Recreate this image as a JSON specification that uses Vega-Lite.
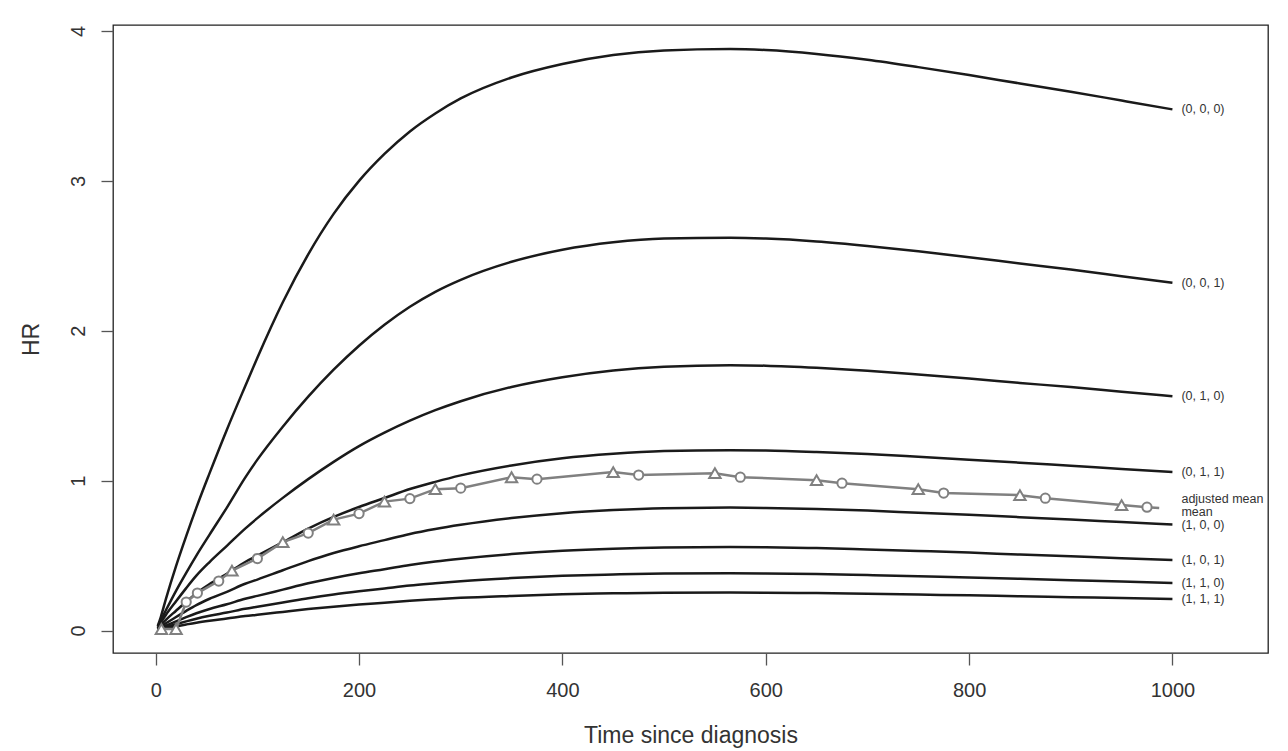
{
  "$schema": "https://vega.github.io/schema/vega-lite/v6.json",
  "width": 1155,
  "height": 628,
  "autosize": {"type": "none"},
  "padding": {"left": 113, "top": 25, "right": 20, "bottom": 98},
  "background": "white",
  "config": {
    "view": {"stroke": "#222222", "strokeWidth": 1.3},
    "font": "Liberation Sans",
    "axis": {"grid": false, "domain": false, "tickColor": "#555555", "tickWidth": 1.3, "tickSize": 12, "labelColor": "#333333", "labelFont": "Liberation Sans", "labelFontSize": 20, "titleFont": "Liberation Sans", "titleFontSize": 23, "titleFontWeight": "normal", "titleColor": "#333333"}
  },
  "datasets": {
    "curves": [
      {"combo": "(0, 0, 0)", "t": 2, "hr": 0.03}, {"combo": "(0, 0, 0)", "t": 5, "hr": 0.09}, {"combo": "(0, 0, 0)", "t": 10, "hr": 0.21}, {"combo": "(0, 0, 0)", "t": 20, "hr": 0.43}, {"combo": "(0, 0, 0)", "t": 30, "hr": 0.63}, {"combo": "(0, 0, 0)", "t": 40, "hr": 0.82}, {"combo": "(0, 0, 0)", "t": 53, "hr": 1.05}, {"combo": "(0, 0, 0)", "t": 70, "hr": 1.34}, {"combo": "(0, 0, 0)", "t": 88, "hr": 1.63}, {"combo": "(0, 0, 0)", "t": 100, "hr": 1.82}, {"combo": "(0, 0, 0)", "t": 125, "hr": 2.19}, {"combo": "(0, 0, 0)", "t": 150, "hr": 2.51}, {"combo": "(0, 0, 0)", "t": 175, "hr": 2.78}, {"combo": "(0, 0, 0)", "t": 200, "hr": 3.0}, {"combo": "(0, 0, 0)", "t": 225, "hr": 3.18}, {"combo": "(0, 0, 0)", "t": 250, "hr": 3.33}, {"combo": "(0, 0, 0)", "t": 275, "hr": 3.45}, {"combo": "(0, 0, 0)", "t": 300, "hr": 3.55}, {"combo": "(0, 0, 0)", "t": 350, "hr": 3.69}, {"combo": "(0, 0, 0)", "t": 400, "hr": 3.78}, {"combo": "(0, 0, 0)", "t": 450, "hr": 3.84}, {"combo": "(0, 0, 0)", "t": 500, "hr": 3.87}, {"combo": "(0, 0, 0)", "t": 565, "hr": 3.88}, {"combo": "(0, 0, 0)", "t": 600, "hr": 3.873}, {"combo": "(0, 0, 0)", "t": 650, "hr": 3.847}, {"combo": "(0, 0, 0)", "t": 700, "hr": 3.808}, {"combo": "(0, 0, 0)", "t": 750, "hr": 3.759}, {"combo": "(0, 0, 0)", "t": 800, "hr": 3.706}, {"combo": "(0, 0, 0)", "t": 850, "hr": 3.65}, {"combo": "(0, 0, 0)", "t": 900, "hr": 3.595}, {"combo": "(0, 0, 0)", "t": 950, "hr": 3.536}, {"combo": "(0, 0, 0)", "t": 1000, "hr": 3.477},
      {"combo": "(0, 0, 1)", "t": 2, "hr": 0.025}, {"combo": "(0, 0, 1)", "t": 5, "hr": 0.068}, {"combo": "(0, 0, 1)", "t": 10, "hr": 0.135}, {"combo": "(0, 0, 1)", "t": 20, "hr": 0.265}, {"combo": "(0, 0, 1)", "t": 30, "hr": 0.385}, {"combo": "(0, 0, 1)", "t": 40, "hr": 0.5}, {"combo": "(0, 0, 1)", "t": 53, "hr": 0.64}, {"combo": "(0, 0, 1)", "t": 70, "hr": 0.82}, {"combo": "(0, 0, 1)", "t": 88, "hr": 1.02}, {"combo": "(0, 0, 1)", "t": 100, "hr": 1.14}, {"combo": "(0, 0, 1)", "t": 125, "hr": 1.36}, {"combo": "(0, 0, 1)", "t": 150, "hr": 1.56}, {"combo": "(0, 0, 1)", "t": 175, "hr": 1.74}, {"combo": "(0, 0, 1)", "t": 200, "hr": 1.9}, {"combo": "(0, 0, 1)", "t": 225, "hr": 2.04}, {"combo": "(0, 0, 1)", "t": 250, "hr": 2.16}, {"combo": "(0, 0, 1)", "t": 275, "hr": 2.26}, {"combo": "(0, 0, 1)", "t": 300, "hr": 2.34}, {"combo": "(0, 0, 1)", "t": 350, "hr": 2.46}, {"combo": "(0, 0, 1)", "t": 400, "hr": 2.54}, {"combo": "(0, 0, 1)", "t": 450, "hr": 2.59}, {"combo": "(0, 0, 1)", "t": 500, "hr": 2.615}, {"combo": "(0, 0, 1)", "t": 565, "hr": 2.62}, {"combo": "(0, 0, 1)", "t": 600, "hr": 2.615}, {"combo": "(0, 0, 1)", "t": 650, "hr": 2.596}, {"combo": "(0, 0, 1)", "t": 700, "hr": 2.566}, {"combo": "(0, 0, 1)", "t": 750, "hr": 2.53}, {"combo": "(0, 0, 1)", "t": 800, "hr": 2.491}, {"combo": "(0, 0, 1)", "t": 850, "hr": 2.449}, {"combo": "(0, 0, 1)", "t": 900, "hr": 2.408}, {"combo": "(0, 0, 1)", "t": 950, "hr": 2.364}, {"combo": "(0, 0, 1)", "t": 1000, "hr": 2.32},
      {"combo": "(0, 1, 0)", "t": 2, "hr": 0.014}, {"combo": "(0, 1, 0)", "t": 5, "hr": 0.053}, {"combo": "(0, 1, 0)", "t": 10, "hr": 0.104}, {"combo": "(0, 1, 0)", "t": 20, "hr": 0.195}, {"combo": "(0, 1, 0)", "t": 30, "hr": 0.283}, {"combo": "(0, 1, 0)", "t": 40, "hr": 0.366}, {"combo": "(0, 1, 0)", "t": 53, "hr": 0.457}, {"combo": "(0, 1, 0)", "t": 70, "hr": 0.565}, {"combo": "(0, 1, 0)", "t": 88, "hr": 0.68}, {"combo": "(0, 1, 0)", "t": 100, "hr": 0.75}, {"combo": "(0, 1, 0)", "t": 125, "hr": 0.885}, {"combo": "(0, 1, 0)", "t": 150, "hr": 1.01}, {"combo": "(0, 1, 0)", "t": 175, "hr": 1.125}, {"combo": "(0, 1, 0)", "t": 200, "hr": 1.23}, {"combo": "(0, 1, 0)", "t": 225, "hr": 1.32}, {"combo": "(0, 1, 0)", "t": 250, "hr": 1.4}, {"combo": "(0, 1, 0)", "t": 275, "hr": 1.47}, {"combo": "(0, 1, 0)", "t": 300, "hr": 1.53}, {"combo": "(0, 1, 0)", "t": 350, "hr": 1.625}, {"combo": "(0, 1, 0)", "t": 400, "hr": 1.69}, {"combo": "(0, 1, 0)", "t": 450, "hr": 1.735}, {"combo": "(0, 1, 0)", "t": 500, "hr": 1.76}, {"combo": "(0, 1, 0)", "t": 565, "hr": 1.77}, {"combo": "(0, 1, 0)", "t": 600, "hr": 1.767}, {"combo": "(0, 1, 0)", "t": 650, "hr": 1.753}, {"combo": "(0, 1, 0)", "t": 700, "hr": 1.733}, {"combo": "(0, 1, 0)", "t": 750, "hr": 1.708}, {"combo": "(0, 1, 0)", "t": 800, "hr": 1.681}, {"combo": "(0, 1, 0)", "t": 850, "hr": 1.652}, {"combo": "(0, 1, 0)", "t": 900, "hr": 1.624}, {"combo": "(0, 1, 0)", "t": 950, "hr": 1.593}, {"combo": "(0, 1, 0)", "t": 1000, "hr": 1.563},
      {"combo": "(0, 1, 1)", "t": 2, "hr": 0.0096}, {"combo": "(0, 1, 1)", "t": 5, "hr": 0.036}, {"combo": "(0, 1, 1)", "t": 10, "hr": 0.071}, {"combo": "(0, 1, 1)", "t": 20, "hr": 0.132}, {"combo": "(0, 1, 1)", "t": 30, "hr": 0.192}, {"combo": "(0, 1, 1)", "t": 40, "hr": 0.249}, {"combo": "(0, 1, 1)", "t": 53, "hr": 0.31}, {"combo": "(0, 1, 1)", "t": 70, "hr": 0.379}, {"combo": "(0, 1, 1)", "t": 88, "hr": 0.457}, {"combo": "(0, 1, 1)", "t": 100, "hr": 0.499}, {"combo": "(0, 1, 1)", "t": 125, "hr": 0.589}, {"combo": "(0, 1, 1)", "t": 150, "hr": 0.68}, {"combo": "(0, 1, 1)", "t": 175, "hr": 0.758}, {"combo": "(0, 1, 1)", "t": 200, "hr": 0.824}, {"combo": "(0, 1, 1)", "t": 225, "hr": 0.884}, {"combo": "(0, 1, 1)", "t": 250, "hr": 0.944}, {"combo": "(0, 1, 1)", "t": 275, "hr": 0.992}, {"combo": "(0, 1, 1)", "t": 300, "hr": 1.035}, {"combo": "(0, 1, 1)", "t": 350, "hr": 1.101}, {"combo": "(0, 1, 1)", "t": 400, "hr": 1.149}, {"combo": "(0, 1, 1)", "t": 450, "hr": 1.179}, {"combo": "(0, 1, 1)", "t": 500, "hr": 1.197}, {"combo": "(0, 1, 1)", "t": 565, "hr": 1.203}, {"combo": "(0, 1, 1)", "t": 600, "hr": 1.201}, {"combo": "(0, 1, 1)", "t": 650, "hr": 1.191}, {"combo": "(0, 1, 1)", "t": 700, "hr": 1.177}, {"combo": "(0, 1, 1)", "t": 750, "hr": 1.159}, {"combo": "(0, 1, 1)", "t": 800, "hr": 1.14}, {"combo": "(0, 1, 1)", "t": 850, "hr": 1.12}, {"combo": "(0, 1, 1)", "t": 900, "hr": 1.099}, {"combo": "(0, 1, 1)", "t": 950, "hr": 1.078}, {"combo": "(0, 1, 1)", "t": 1000, "hr": 1.057},
      {"combo": "(1, 0, 0)", "t": 2, "hr": 0.0066}, {"combo": "(1, 0, 0)", "t": 5, "hr": 0.0246}, {"combo": "(1, 0, 0)", "t": 10, "hr": 0.048}, {"combo": "(1, 0, 0)", "t": 20, "hr": 0.09}, {"combo": "(1, 0, 0)", "t": 30, "hr": 0.131}, {"combo": "(1, 0, 0)", "t": 40, "hr": 0.17}, {"combo": "(1, 0, 0)", "t": 53, "hr": 0.212}, {"combo": "(1, 0, 0)", "t": 70, "hr": 0.258}, {"combo": "(1, 0, 0)", "t": 88, "hr": 0.312}, {"combo": "(1, 0, 0)", "t": 100, "hr": 0.34}, {"combo": "(1, 0, 0)", "t": 125, "hr": 0.402}, {"combo": "(1, 0, 0)", "t": 150, "hr": 0.463}, {"combo": "(1, 0, 0)", "t": 175, "hr": 0.517}, {"combo": "(1, 0, 0)", "t": 200, "hr": 0.562}, {"combo": "(1, 0, 0)", "t": 225, "hr": 0.603}, {"combo": "(1, 0, 0)", "t": 250, "hr": 0.644}, {"combo": "(1, 0, 0)", "t": 275, "hr": 0.677}, {"combo": "(1, 0, 0)", "t": 300, "hr": 0.705}, {"combo": "(1, 0, 0)", "t": 350, "hr": 0.75}, {"combo": "(1, 0, 0)", "t": 400, "hr": 0.783}, {"combo": "(1, 0, 0)", "t": 450, "hr": 0.804}, {"combo": "(1, 0, 0)", "t": 500, "hr": 0.816}, {"combo": "(1, 0, 0)", "t": 565, "hr": 0.82}, {"combo": "(1, 0, 0)", "t": 600, "hr": 0.818}, {"combo": "(1, 0, 0)", "t": 650, "hr": 0.811}, {"combo": "(1, 0, 0)", "t": 700, "hr": 0.8}, {"combo": "(1, 0, 0)", "t": 750, "hr": 0.786}, {"combo": "(1, 0, 0)", "t": 800, "hr": 0.772}, {"combo": "(1, 0, 0)", "t": 850, "hr": 0.756}, {"combo": "(1, 0, 0)", "t": 900, "hr": 0.741}, {"combo": "(1, 0, 0)", "t": 950, "hr": 0.724}, {"combo": "(1, 0, 0)", "t": 1000, "hr": 0.708},
      {"combo": "(1, 0, 1)", "t": 2, "hr": 0.0045}, {"combo": "(1, 0, 1)", "t": 5, "hr": 0.0167}, {"combo": "(1, 0, 1)", "t": 10, "hr": 0.0329}, {"combo": "(1, 0, 1)", "t": 20, "hr": 0.0613}, {"combo": "(1, 0, 1)", "t": 30, "hr": 0.0891}, {"combo": "(1, 0, 1)", "t": 40, "hr": 0.115}, {"combo": "(1, 0, 1)", "t": 53, "hr": 0.144}, {"combo": "(1, 0, 1)", "t": 70, "hr": 0.175}, {"combo": "(1, 0, 1)", "t": 88, "hr": 0.212}, {"combo": "(1, 0, 1)", "t": 100, "hr": 0.231}, {"combo": "(1, 0, 1)", "t": 125, "hr": 0.273}, {"combo": "(1, 0, 1)", "t": 150, "hr": 0.315}, {"combo": "(1, 0, 1)", "t": 175, "hr": 0.351}, {"combo": "(1, 0, 1)", "t": 200, "hr": 0.382}, {"combo": "(1, 0, 1)", "t": 225, "hr": 0.409}, {"combo": "(1, 0, 1)", "t": 250, "hr": 0.437}, {"combo": "(1, 0, 1)", "t": 275, "hr": 0.46}, {"combo": "(1, 0, 1)", "t": 300, "hr": 0.479}, {"combo": "(1, 0, 1)", "t": 350, "hr": 0.51}, {"combo": "(1, 0, 1)", "t": 400, "hr": 0.532}, {"combo": "(1, 0, 1)", "t": 450, "hr": 0.546}, {"combo": "(1, 0, 1)", "t": 500, "hr": 0.554}, {"combo": "(1, 0, 1)", "t": 565, "hr": 0.557}, {"combo": "(1, 0, 1)", "t": 600, "hr": 0.556}, {"combo": "(1, 0, 1)", "t": 650, "hr": 0.55}, {"combo": "(1, 0, 1)", "t": 700, "hr": 0.541}, {"combo": "(1, 0, 1)", "t": 750, "hr": 0.531}, {"combo": "(1, 0, 1)", "t": 800, "hr": 0.52}, {"combo": "(1, 0, 1)", "t": 850, "hr": 0.507}, {"combo": "(1, 0, 1)", "t": 900, "hr": 0.495}, {"combo": "(1, 0, 1)", "t": 950, "hr": 0.483}, {"combo": "(1, 0, 1)", "t": 1000, "hr": 0.47},
      {"combo": "(1, 1, 0)", "t": 2, "hr": 0.0031}, {"combo": "(1, 1, 0)", "t": 5, "hr": 0.0115}, {"combo": "(1, 1, 0)", "t": 10, "hr": 0.0225}, {"combo": "(1, 1, 0)", "t": 20, "hr": 0.042}, {"combo": "(1, 1, 0)", "t": 30, "hr": 0.0611}, {"combo": "(1, 1, 0)", "t": 40, "hr": 0.0791}, {"combo": "(1, 1, 0)", "t": 53, "hr": 0.0986}, {"combo": "(1, 1, 0)", "t": 70, "hr": 0.12}, {"combo": "(1, 1, 0)", "t": 88, "hr": 0.145}, {"combo": "(1, 1, 0)", "t": 100, "hr": 0.159}, {"combo": "(1, 1, 0)", "t": 125, "hr": 0.187}, {"combo": "(1, 1, 0)", "t": 150, "hr": 0.216}, {"combo": "(1, 1, 0)", "t": 175, "hr": 0.241}, {"combo": "(1, 1, 0)", "t": 200, "hr": 0.262}, {"combo": "(1, 1, 0)", "t": 225, "hr": 0.281}, {"combo": "(1, 1, 0)", "t": 250, "hr": 0.3}, {"combo": "(1, 1, 0)", "t": 275, "hr": 0.315}, {"combo": "(1, 1, 0)", "t": 300, "hr": 0.329}, {"combo": "(1, 1, 0)", "t": 350, "hr": 0.35}, {"combo": "(1, 1, 0)", "t": 400, "hr": 0.365}, {"combo": "(1, 1, 0)", "t": 450, "hr": 0.374}, {"combo": "(1, 1, 0)", "t": 500, "hr": 0.38}, {"combo": "(1, 1, 0)", "t": 565, "hr": 0.382}, {"combo": "(1, 1, 0)", "t": 600, "hr": 0.381}, {"combo": "(1, 1, 0)", "t": 650, "hr": 0.377}, {"combo": "(1, 1, 0)", "t": 700, "hr": 0.37}, {"combo": "(1, 1, 0)", "t": 750, "hr": 0.362}, {"combo": "(1, 1, 0)", "t": 800, "hr": 0.354}, {"combo": "(1, 1, 0)", "t": 850, "hr": 0.345}, {"combo": "(1, 1, 0)", "t": 900, "hr": 0.336}, {"combo": "(1, 1, 0)", "t": 950, "hr": 0.327}, {"combo": "(1, 1, 0)", "t": 1000, "hr": 0.317},
      {"combo": "(1, 1, 1)", "t": 2, "hr": 0.002}, {"combo": "(1, 1, 1)", "t": 5, "hr": 0.0076}, {"combo": "(1, 1, 1)", "t": 10, "hr": 0.0149}, {"combo": "(1, 1, 1)", "t": 20, "hr": 0.0278}, {"combo": "(1, 1, 1)", "t": 30, "hr": 0.0405}, {"combo": "(1, 1, 1)", "t": 40, "hr": 0.0524}, {"combo": "(1, 1, 1)", "t": 53, "hr": 0.0653}, {"combo": "(1, 1, 1)", "t": 70, "hr": 0.0797}, {"combo": "(1, 1, 1)", "t": 88, "hr": 0.0961}, {"combo": "(1, 1, 1)", "t": 100, "hr": 0.105}, {"combo": "(1, 1, 1)", "t": 125, "hr": 0.124}, {"combo": "(1, 1, 1)", "t": 150, "hr": 0.143}, {"combo": "(1, 1, 1)", "t": 175, "hr": 0.159}, {"combo": "(1, 1, 1)", "t": 200, "hr": 0.173}, {"combo": "(1, 1, 1)", "t": 225, "hr": 0.186}, {"combo": "(1, 1, 1)", "t": 250, "hr": 0.199}, {"combo": "(1, 1, 1)", "t": 275, "hr": 0.209}, {"combo": "(1, 1, 1)", "t": 300, "hr": 0.218}, {"combo": "(1, 1, 1)", "t": 350, "hr": 0.231}, {"combo": "(1, 1, 1)", "t": 400, "hr": 0.242}, {"combo": "(1, 1, 1)", "t": 450, "hr": 0.248}, {"combo": "(1, 1, 1)", "t": 500, "hr": 0.252}, {"combo": "(1, 1, 1)", "t": 565, "hr": 0.253}, {"combo": "(1, 1, 1)", "t": 600, "hr": 0.2523}, {"combo": "(1, 1, 1)", "t": 650, "hr": 0.2495}, {"combo": "(1, 1, 1)", "t": 700, "hr": 0.2453}, {"combo": "(1, 1, 1)", "t": 750, "hr": 0.2401}, {"combo": "(1, 1, 1)", "t": 800, "hr": 0.2345}, {"combo": "(1, 1, 1)", "t": 850, "hr": 0.2286}, {"combo": "(1, 1, 1)", "t": 900, "hr": 0.2226}, {"combo": "(1, 1, 1)", "t": 950, "hr": 0.2163}, {"combo": "(1, 1, 1)", "t": 1000, "hr": 0.21}
    ],
    "avgLine": [
      {"t": 5.6, "hr": 0.01}, {"t": 20, "hr": 0.01}, {"t": 30, "hr": 0.19}, {"t": 41, "hr": 0.25}, {"t": 62, "hr": 0.33}, {"t": 75, "hr": 0.4}, {"t": 100, "hr": 0.48}, {"t": 125, "hr": 0.59}, {"t": 150, "hr": 0.65}, {"t": 175, "hr": 0.74}, {"t": 200, "hr": 0.78}, {"t": 225, "hr": 0.86}, {"t": 250, "hr": 0.88}, {"t": 275, "hr": 0.943}, {"t": 300, "hr": 0.95}, {"t": 350, "hr": 1.023}, {"t": 375, "hr": 1.01}, {"t": 450, "hr": 1.057}, {"t": 475, "hr": 1.037}, {"t": 550, "hr": 1.05}, {"t": 575, "hr": 1.023}, {"t": 650, "hr": 1.003}, {"t": 675, "hr": 0.983}, {"t": 750, "hr": 0.943}, {"t": 775, "hr": 0.917}, {"t": 850, "hr": 0.903}, {"t": 875, "hr": 0.883}, {"t": 950, "hr": 0.837}, {"t": 975, "hr": 0.823}, {"t": 987, "hr": 0.818}
    ],
    "avgPoints": [
      {"series": "adjusted mean", "t": 5.6, "hr": 0.01}, {"series": "adjusted mean", "t": 20, "hr": 0.01}, {"series": "adjusted mean", "t": 75, "hr": 0.4}, {"series": "adjusted mean", "t": 125, "hr": 0.59}, {"series": "adjusted mean", "t": 175, "hr": 0.74}, {"series": "adjusted mean", "t": 225, "hr": 0.86}, {"series": "adjusted mean", "t": 275, "hr": 0.943}, {"series": "adjusted mean", "t": 350, "hr": 1.023}, {"series": "adjusted mean", "t": 450, "hr": 1.057}, {"series": "adjusted mean", "t": 550, "hr": 1.05}, {"series": "adjusted mean", "t": 650, "hr": 1.003}, {"series": "adjusted mean", "t": 750, "hr": 0.943}, {"series": "adjusted mean", "t": 850, "hr": 0.903}, {"series": "adjusted mean", "t": 950, "hr": 0.837},
      {"series": "mean", "t": 30, "hr": 0.19}, {"series": "mean", "t": 41, "hr": 0.25}, {"series": "mean", "t": 62, "hr": 0.33}, {"series": "mean", "t": 100, "hr": 0.48}, {"series": "mean", "t": 150, "hr": 0.65}, {"series": "mean", "t": 200, "hr": 0.78}, {"series": "mean", "t": 250, "hr": 0.88}, {"series": "mean", "t": 300, "hr": 0.95}, {"series": "mean", "t": 375, "hr": 1.01}, {"series": "mean", "t": 475, "hr": 1.037}, {"series": "mean", "t": 575, "hr": 1.023}, {"series": "mean", "t": 675, "hr": 0.983}, {"series": "mean", "t": 775, "hr": 0.917}, {"series": "mean", "t": 875, "hr": 0.883}, {"series": "mean", "t": 975, "hr": 0.823}
    ],
    "labels": [
      {"label": "(0, 0, 0)", "t": 1000, "hr": 3.477}, {"label": "(0, 0, 1)", "t": 1000, "hr": 2.32}, {"label": "(0, 1, 0)", "t": 1000, "hr": 1.563}, {"label": "(0, 1, 1)", "t": 1000, "hr": 1.057}, {"label": "adjusted mean", "t": 1000, "hr": 0.879}, {"label": "mean", "t": 1000, "hr": 0.792}, {"label": "(1, 0, 0)", "t": 1000, "hr": 0.705}, {"label": "(1, 0, 1)", "t": 1000, "hr": 0.47}, {"label": "(1, 1, 0)", "t": 1000, "hr": 0.317}, {"label": "(1, 1, 1)", "t": 1000, "hr": 0.21}
    ]
  },
  "encoding": {
    "x": {"field": "t", "type": "quantitative", "scale": {"domain": [-42, 1094], "nice": false, "zero": false}, "axis": {"values": [0, 200, 400, 600, 800, 1000], "format": "d", "title": "Time since diagnosis", "labelPadding": 15, "titlePadding": 24}},
    "y": {"field": "hr", "type": "quantitative", "scale": {"domain": [-0.15, 4.04], "nice": false, "zero": false}, "axis": {"values": [0, 1, 2, 3, 4], "format": "d", "title": "HR", "labelAngle": 270, "labelAlign": "center", "labelBaseline": "alphabetic", "labelPadding": 17, "titlePadding": 30, "titleBaseline": "alphabetic"}}
  },
  "layer": [
    {"data": {"name": "curves"}, "mark": {"type": "line", "color": "#1a1a1a", "strokeWidth": 2.5, "interpolate": "monotone"}, "encoding": {"detail": {"field": "combo"}}},
    {"data": {"name": "avgLine"}, "mark": {"type": "line", "color": "#808080", "strokeWidth": 2.5}, "encoding": {}},
    {"data": {"name": "avgPoints"}, "mark": {"type": "point", "filled": true, "fill": "white", "stroke": "#808080", "strokeWidth": 2, "opacity": 1}, "encoding": {"shape": {"field": "series", "type": "nominal", "scale": {"domain": ["adjusted mean", "mean"], "range": ["triangle-up", "circle"]}, "legend": null}, "size": {"field": "series", "type": "nominal", "scale": {"domain": ["adjusted mean", "mean"], "range": [130, 85]}, "legend": null}}},
    {"data": {"name": "labels"}, "mark": {"type": "text", "align": "left", "baseline": "middle", "dx": 9, "fontSize": 12.5, "font": "Liberation Sans", "color": "#333333"}, "encoding": {"text": {"field": "label"}}}
  ]
}
